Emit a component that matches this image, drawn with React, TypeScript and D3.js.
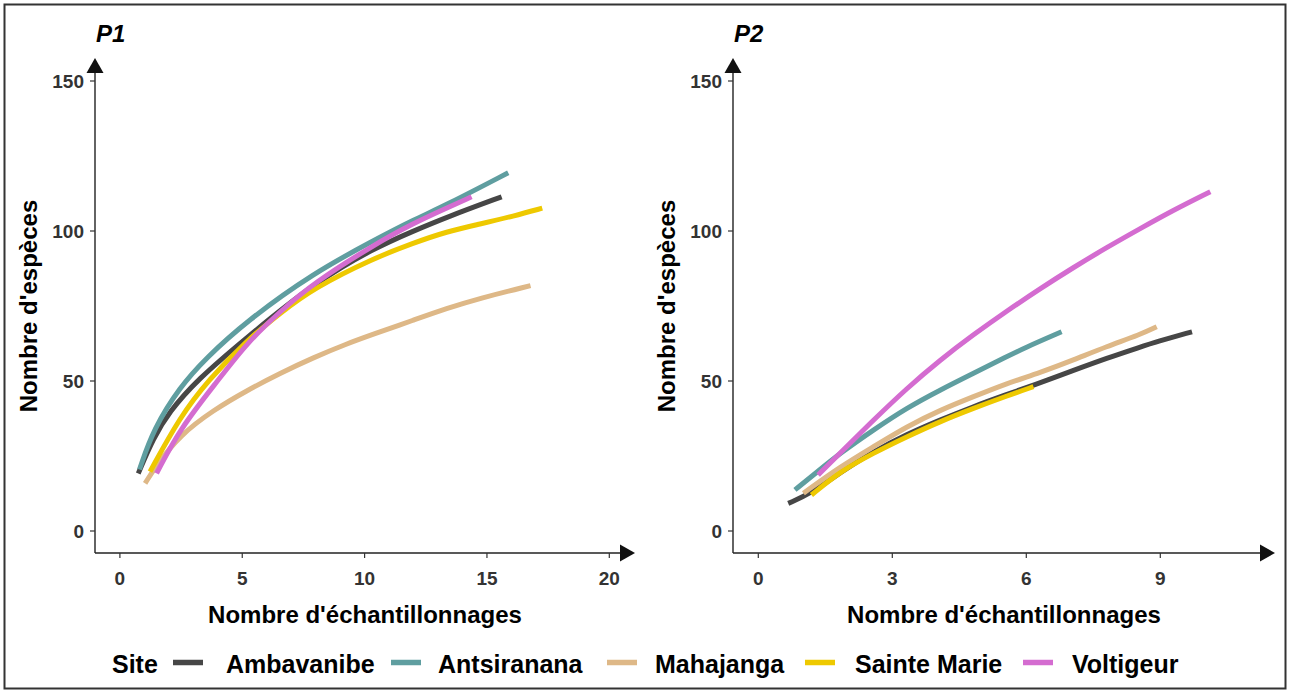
import { useEffect, useRef } from 'react';
import * as d3 from 'd3';

type Pt = [number, number];

// sites (legend order = drawing order)
const sites = ['Ambavanibe', 'Antsiranana', 'Mahajanga', 'Sainte Marie', 'Voltigeur'];
const siteColors = ['#464646', '#5F9EA0', '#DEB887', '#EEC900', '#D46CD0'];

// P1 curves: [nombre d'échantillonnages, nombre d'espèces]
const p1Ambavanibe: Pt[] = [[0.75, 19.2], [1.37, 31], [2.0, 39.5], [3.14, 50.3], [5.18, 64.5], [7.91, 82.5], [10.36, 94.2], [12.0, 100], [13.35, 104.6], [15.6, 111.4]];
const p1Antsiranana: Pt[] = [[0.8, 20.5], [1.37, 34], [2.46, 48.1], [3.5, 57.5], [5.18, 70], [7.91, 86], [10.36, 96.8], [12.0, 103.7], [13.35, 108.7], [15.87, 119.4]];
const p1Mahajanga: Pt[] = [[1.03, 15.9], [1.5, 22], [2.46, 32], [3.82, 40.3], [5.18, 46.8], [6.55, 52.6], [7.91, 57.8], [9.27, 62.4], [10.36, 65.6], [12.0, 70.3], [13.35, 74.2], [14.71, 77.6], [16.78, 81.8]];
const p1SainteMarie: Pt[] = [[1.23, 19.8], [2.46, 38.1], [3.61, 50.3], [5.18, 63.5], [6.55, 72.6], [7.91, 80.9], [10.36, 90.9], [12.0, 96], [13.35, 99.8], [14.71, 102.3], [16.1, 105], [17.26, 107.6]];
const p1Voltigeur: Pt[] = [[1.5, 19.2], [2.46, 34.2], [4.02, 50.3], [5.18, 62.6], [6.55, 73.2], [7.91, 82.6], [10.36, 95.3], [12.0, 102.6], [13.35, 107.6], [14.37, 111.4]];

// P2 curves
const p2Ambavanibe: Pt[] = [[0.67, 9.2], [1.19, 12.6], [1.83, 19.5], [2.58, 26.5], [3.32, 32.2], [4.07, 37], [4.82, 41.5], [5.56, 45.5], [6.16, 48.6], [7.05, 53.5], [7.8, 57.6], [8.55, 61.3], [8.92, 63.1], [9.71, 66.4]];
const p2Antsiranana: Pt[] = [[0.82, 13.7], [1.3, 19.5], [1.83, 25.9], [2.58, 33.7], [3.32, 41], [4.07, 47], [4.82, 52.6], [5.56, 58.1], [5.94, 60.9], [6.79, 66.4]];
const p2Mahajanga: Pt[] = [[1.01, 12.6], [1.83, 21.4], [2.58, 28.1], [3.32, 34.8], [4.07, 40.3], [4.82, 44.8], [5.56, 49.2], [6.31, 52.8], [7.05, 57], [7.8, 61.5], [8.55, 65.5], [8.92, 68.1]];
const p2SainteMarie: Pt[] = [[1.19, 12], [1.83, 19.8], [2.58, 26], [3.32, 31.4], [4.07, 36.5], [4.82, 40.9], [5.56, 45], [6.16, 48.1]];
const p2Voltigeur: Pt[] = [[1.34, 18.7], [1.83, 26], [2.58, 37], [3.32, 47.5], [4.07, 57], [4.82, 65.5], [5.56, 73.3], [6.31, 80.8], [7.05, 87.8], [7.8, 94.5], [8.55, 100.8], [9.3, 107], [10.12, 113.1]];

const yTicks = [0, 50, 100, 150];
const p1XTicks = [0, 5, 10, 15, 20];
const p2XTicks = [0, 3, 6, 9];

const panels = [
    { title: 'P1', series: [p1Ambavanibe, p1Antsiranana, p1Mahajanga, p1SainteMarie, p1Voltigeur], xTicks: p1XTicks, xDomain: [0, 20], xRange: [119.9, 609.3], axisX: 95, arrowX: 635 },
    { title: 'P2', series: [p2Ambavanibe, p2Antsiranana, p2Mahajanga, p2SainteMarie, p2Voltigeur], xTicks: p2XTicks, xDomain: [0, 9], xRange: [758.3, 1160.3], axisX: 733, arrowX: 1275 },
];

// legend layout (key start / label start, px)
const legendKeyX = [173, 391, 607, 805, 1023];
const legendLabelX = [226, 438, 655, 855, 1072];

const width = 1290;
const height = 693;
const FONT = '"Liberation Sans", Arial, sans-serif';

export default function App() {
    const svgRef = useRef<SVGSVGElement>(null);

    useEffect(() => {
        if (!svgRef.current) return;
        const svg = d3.select(svgRef.current);
        svg.selectAll('*').remove();

        svg.append('rect')
            .attr('width', width).attr('height', height).attr('fill', 'white');
        // outer frame
        svg.append('rect')
            .attr('x', 4.5).attr('y', 4.5).attr('width', 1281).attr('height', 684)
            .attr('fill', 'none').attr('stroke', '#333').attr('stroke-width', 2);

        const y = d3.scaleLinear().domain([0, 150]).range([531, 81]);
        const axisY = 553;

        panels.forEach(p => {
            const x = d3.scaleLinear().domain(p.xDomain).range(p.xRange);
            const g = svg.append('g');

            // lines
            const line = d3.line<Pt>()
                .x(d => x(d[0]))
                .y(d => y(d[1]))
                .curve(d3.curveBasis);
            p.series.forEach((s, i) => {
                g.append('path')
                    .datum(s)
                    .attr('d', line)
                    .attr('fill', 'none')
                    .attr('stroke', siteColors[i])
                    .attr('stroke-width', 5);
            });

            // y axis with arrow
            g.append('line')
                .attr('x1', p.axisX).attr('x2', p.axisX)
                .attr('y1', axisY).attr('y2', 70)
                .attr('stroke', '#222').attr('stroke-width', 1.4);
            g.append('path')
                .attr('d', `M${p.axisX},58 L${p.axisX - 8.5},73 L${p.axisX + 8.5},73 Z`)
                .attr('fill', '#111');
            // x axis with arrow
            g.append('line')
                .attr('x1', p.axisX).attr('x2', p.arrowX - 12)
                .attr('y1', axisY).attr('y2', axisY)
                .attr('stroke', '#222').attr('stroke-width', 1.4);
            g.append('path')
                .attr('d', `M${p.arrowX},${axisY} L${p.arrowX - 15},${axisY - 8.5} L${p.arrowX - 15},${axisY + 8.5} Z`)
                .attr('fill', '#111');

            // y ticks
            yTicks.forEach(t => {
                g.append('line')
                    .attr('x1', p.axisX - 5).attr('x2', p.axisX)
                    .attr('y1', y(t)).attr('y2', y(t))
                    .attr('stroke', '#333').attr('stroke-width', 1.2);
                g.append('text')
                    .attr('x', p.axisX - 11).attr('y', y(t)).attr('dy', '0.36em')
                    .attr('text-anchor', 'end')
                    .attr('font-family', FONT).attr('font-weight', 'bold').attr('font-size', 19)
                    .attr('fill', '#333')
                    .text(t);
            });
            // x ticks
            p.xTicks.forEach(t => {
                g.append('line')
                    .attr('x1', x(t)).attr('x2', x(t))
                    .attr('y1', axisY).attr('y2', axisY + 5)
                    .attr('stroke', '#333').attr('stroke-width', 1.2);
                g.append('text')
                    .attr('x', x(t)).attr('y', 585)
                    .attr('text-anchor', 'middle')
                    .attr('font-family', FONT).attr('font-weight', 'bold').attr('font-size', 19)
                    .attr('fill', '#333')
                    .text(t);
            });

            // panel title
            g.append('text')
                .attr('x', p.axisX + 1).attr('y', 41.5)
                .attr('font-family', FONT).attr('font-weight', 'bold').attr('font-style', 'italic')
                .attr('font-size', 24).attr('fill', '#000')
                .text(p.title);

            // axis titles
            g.append('text')
                .attr('x', (p.axisX + p.arrowX) / 2).attr('y', 623)
                .attr('text-anchor', 'middle')
                .attr('font-family', FONT).attr('font-weight', 'bold').attr('font-size', 24)
                .attr('fill', '#000')
                .text("Nombre d'échantillonnages");
            g.append('text')
                .attr('transform', `translate(${p.axisX - 58.5},306) rotate(-90)`)
                .attr('text-anchor', 'middle')
                .attr('font-family', FONT).attr('font-weight', 'bold').attr('font-size', 24)
                .attr('fill', '#000')
                .text("Nombre d'espèces");
        });

        // legend
        const lg = svg.append('g');
        const baseY = 673;
        const keyY = 662.5;
        lg.append('text')
            .attr('x', 112).attr('y', baseY)
            .attr('font-family', FONT).attr('font-weight', 'bold').attr('font-size', 25)
            .attr('fill', '#000')
            .text('Site');
        sites.forEach((s, i) => {
            lg.append('line')
                .attr('x1', legendKeyX[i]).attr('x2', legendKeyX[i] + 30)
                .attr('y1', keyY).attr('y2', keyY)
                .attr('stroke', siteColors[i]).attr('stroke-width', 5.5);
            lg.append('text')
                .attr('x', legendLabelX[i]).attr('y', baseY)
                .attr('font-family', FONT).attr('font-weight', 'bold').attr('font-size', 25)
                .attr('fill', '#000')
                .text(s);
        });
    }, []);

    return (
        <div style={{ position: 'absolute', left: 0, top: 0 }}>
            <svg ref={svgRef} width={width} height={height} style={{ display: 'block' }} />
        </div>
    );
}
